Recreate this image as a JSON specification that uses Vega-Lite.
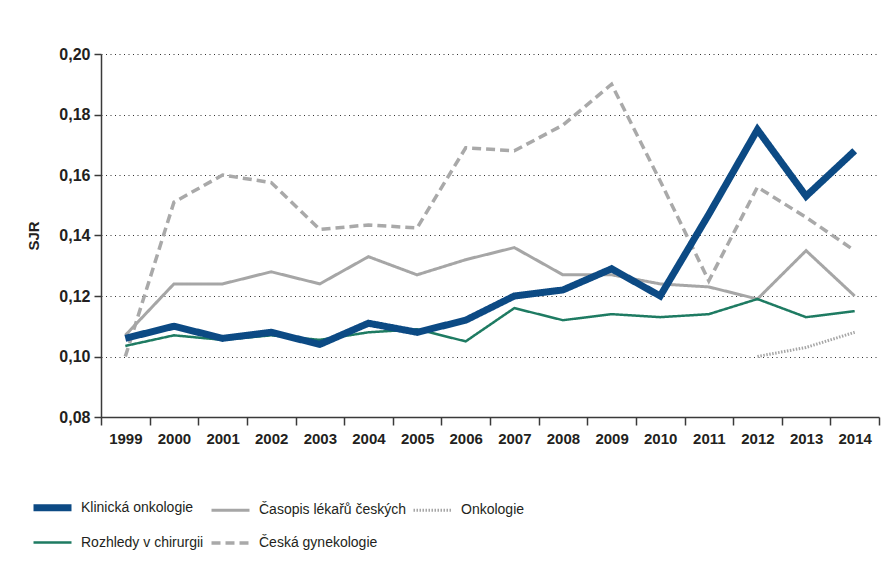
{
  "$schema": "https://vega.github.io/schema/vega-lite/v6.json",
  "width": 778,
  "height": 363,
  "autosize": "none",
  "padding": {"left": 101, "top": 54, "right": 3, "bottom": 152},
  "background": "white",
  "config": {
    "view": {"stroke": null},
    "font": "Liberation Sans"
  },
  "data": {
    "values": [
      {"year": "1999", "journal": "Klinická onkologie", "sjr": 0.106},
      {"year": "2000", "journal": "Klinická onkologie", "sjr": 0.110},
      {"year": "2001", "journal": "Klinická onkologie", "sjr": 0.106},
      {"year": "2002", "journal": "Klinická onkologie", "sjr": 0.108},
      {"year": "2003", "journal": "Klinická onkologie", "sjr": 0.104},
      {"year": "2004", "journal": "Klinická onkologie", "sjr": 0.111},
      {"year": "2005", "journal": "Klinická onkologie", "sjr": 0.108},
      {"year": "2006", "journal": "Klinická onkologie", "sjr": 0.112},
      {"year": "2007", "journal": "Klinická onkologie", "sjr": 0.120},
      {"year": "2008", "journal": "Klinická onkologie", "sjr": 0.122},
      {"year": "2009", "journal": "Klinická onkologie", "sjr": 0.129},
      {"year": "2010", "journal": "Klinická onkologie", "sjr": 0.120},
      {"year": "2011", "journal": "Klinická onkologie", "sjr": 0.147},
      {"year": "2012", "journal": "Klinická onkologie", "sjr": 0.175},
      {"year": "2013", "journal": "Klinická onkologie", "sjr": 0.153},
      {"year": "2014", "journal": "Klinická onkologie", "sjr": 0.168},
      {"year": "1999", "journal": "Časopis lékařů českých", "sjr": 0.107},
      {"year": "2000", "journal": "Časopis lékařů českých", "sjr": 0.124},
      {"year": "2001", "journal": "Časopis lékařů českých", "sjr": 0.124},
      {"year": "2002", "journal": "Časopis lékařů českých", "sjr": 0.128},
      {"year": "2003", "journal": "Časopis lékařů českých", "sjr": 0.124},
      {"year": "2004", "journal": "Časopis lékařů českých", "sjr": 0.133},
      {"year": "2005", "journal": "Časopis lékařů českých", "sjr": 0.127},
      {"year": "2006", "journal": "Časopis lékařů českých", "sjr": 0.132},
      {"year": "2007", "journal": "Časopis lékařů českých", "sjr": 0.136},
      {"year": "2008", "journal": "Časopis lékařů českých", "sjr": 0.127},
      {"year": "2009", "journal": "Časopis lékařů českých", "sjr": 0.127},
      {"year": "2010", "journal": "Časopis lékařů českých", "sjr": 0.124},
      {"year": "2011", "journal": "Časopis lékařů českých", "sjr": 0.123},
      {"year": "2012", "journal": "Časopis lékařů českých", "sjr": 0.119},
      {"year": "2013", "journal": "Časopis lékařů českých", "sjr": 0.135},
      {"year": "2014", "journal": "Časopis lékařů českých", "sjr": 0.120},
      {"year": "1999", "journal": "Rozhledy v chirurgii", "sjr": 0.1035},
      {"year": "2000", "journal": "Rozhledy v chirurgii", "sjr": 0.107},
      {"year": "2001", "journal": "Rozhledy v chirurgii", "sjr": 0.1055},
      {"year": "2002", "journal": "Rozhledy v chirurgii", "sjr": 0.107},
      {"year": "2003", "journal": "Rozhledy v chirurgii", "sjr": 0.1055},
      {"year": "2004", "journal": "Rozhledy v chirurgii", "sjr": 0.108},
      {"year": "2005", "journal": "Rozhledy v chirurgii", "sjr": 0.109},
      {"year": "2006", "journal": "Rozhledy v chirurgii", "sjr": 0.105},
      {"year": "2007", "journal": "Rozhledy v chirurgii", "sjr": 0.116},
      {"year": "2008", "journal": "Rozhledy v chirurgii", "sjr": 0.112},
      {"year": "2009", "journal": "Rozhledy v chirurgii", "sjr": 0.114},
      {"year": "2010", "journal": "Rozhledy v chirurgii", "sjr": 0.113},
      {"year": "2011", "journal": "Rozhledy v chirurgii", "sjr": 0.114},
      {"year": "2012", "journal": "Rozhledy v chirurgii", "sjr": 0.119},
      {"year": "2013", "journal": "Rozhledy v chirurgii", "sjr": 0.113},
      {"year": "2014", "journal": "Rozhledy v chirurgii", "sjr": 0.115},
      {"year": "1999", "journal": "Česká gynekologie", "sjr": 0.100},
      {"year": "2000", "journal": "Česká gynekologie", "sjr": 0.151},
      {"year": "2001", "journal": "Česká gynekologie", "sjr": 0.160},
      {"year": "2002", "journal": "Česká gynekologie", "sjr": 0.1575},
      {"year": "2003", "journal": "Česká gynekologie", "sjr": 0.142},
      {"year": "2004", "journal": "Česká gynekologie", "sjr": 0.1435},
      {"year": "2005", "journal": "Česká gynekologie", "sjr": 0.1425},
      {"year": "2006", "journal": "Česká gynekologie", "sjr": 0.169},
      {"year": "2007", "journal": "Česká gynekologie", "sjr": 0.168},
      {"year": "2008", "journal": "Česká gynekologie", "sjr": 0.1765},
      {"year": "2009", "journal": "Česká gynekologie", "sjr": 0.190},
      {"year": "2010", "journal": "Česká gynekologie", "sjr": 0.158},
      {"year": "2011", "journal": "Česká gynekologie", "sjr": 0.125},
      {"year": "2012", "journal": "Česká gynekologie", "sjr": 0.156},
      {"year": "2013", "journal": "Česká gynekologie", "sjr": 0.146},
      {"year": "2014", "journal": "Česká gynekologie", "sjr": 0.135},
      {"year": "2012", "journal": "Onkologie", "sjr": 0.100},
      {"year": "2013", "journal": "Onkologie", "sjr": 0.103},
      {"year": "2014", "journal": "Onkologie", "sjr": 0.108}
    ]
  },
  "encoding": {
    "x": {
      "field": "year",
      "type": "ordinal",
      "bandPosition": 0.5,
      "scale": {"type": "band", "paddingInner": 0, "paddingOuter": 0},
      "axis": {
        "title": null,
        "tickBand": "extent",
        "labelAngle": 0,
        "labelFontSize": 15,
        "labelFontWeight": "bold",
        "labelColor": "#231f20",
        "labelPadding": 6,
        "tickSize": 8,
        "tickColor": "#3a3a3a",
        "domainColor": "#3a3a3a",
        "domainWidth": 1.5,
        "tickWidth": 1.5,
        "grid": false
      }
    },
    "y": {
      "field": "sjr",
      "type": "quantitative",
      "scale": {"domain": [0.08, 0.2], "nice": false, "zero": false},
      "axis": {
        "title": "SJR",
        "titleFontSize": 15,
        "titleFontWeight": "bold",
        "titleColor": "#231f20",
        "titlePadding": 17,
        "values": [0.08, 0.1, 0.12, 0.14, 0.16, 0.18, 0.2],
        "labelExpr": "replace(format(datum.value, '.2f'), '.', ',')",
        "labelFontSize": 16,
        "labelFontWeight": "bold",
        "labelColor": "#231f20",
        "labelPadding": 4,
        "tickSize": 7,
        "tickColor": "#3a3a3a",
        "tickWidth": 1.5,
        "domainColor": "#3a3a3a",
        "domainWidth": 1.5,
        "grid": true,
        "gridColor": "#333333",
        "gridDash": [1, 3.5],
        "gridWidth": 1.2
      }
    },
    "color": {
      "field": "journal",
      "type": "nominal",
      "scale": {
        "domain": ["Klinická onkologie", "Časopis lékařů českých", "Onkologie", "Rozhledy v chirurgii", "Česká gynekologie"],
        "range": ["#0c4a84", "#a6a6a6", "#a6a6a6", "#1e7b62", "#a9a9a9"]
      },
      "legend": {
        "title": null,
        "orient": "none",
        "legendX": -71,
        "legendY": 431,
        "direction": "horizontal",
        "columns": 3,
        "columnPadding": 0,
        "rowPadding": -40,
        "symbolType": "stroke",
        "symbolSize": 1444,
        "labelFontSize": 14,
        "labelColor": "#231f20",
        "labelOffset": 6,
        "labelLimit": 300
      }
    },
    "strokeDash": {
      "field": "journal",
      "type": "nominal",
      "scale": {
        "domain": ["Klinická onkologie", "Časopis lékařů českých", "Onkologie", "Rozhledy v chirurgii", "Česká gynekologie"],
        "range": [[1, 0], [1, 0], [1.5, 1.5], [1, 0], [9, 5]]
      }
    },
    "strokeWidth": {
      "field": "journal",
      "type": "nominal",
      "scale": {
        "type": "ordinal",
        "domain": ["Klinická onkologie", "Časopis lékařů českých", "Onkologie", "Rozhledy v chirurgii", "Česká gynekologie"],
        "range": [7, 3, 3, 2.5, 3.5]
      }
    }
  },
  "layer": [
    {"transform": [{"filter": "datum.journal === 'Onkologie'"}], "mark": {"type": "line"}},
    {"transform": [{"filter": "datum.journal === 'Česká gynekologie'"}], "mark": {"type": "line"}},
    {"transform": [{"filter": "datum.journal === 'Časopis lékařů českých'"}], "mark": {"type": "line"}},
    {"transform": [{"filter": "datum.journal === 'Rozhledy v chirurgii'"}], "mark": {"type": "line"}},
    {"transform": [{"filter": "datum.journal === 'Klinická onkologie'"}], "mark": {"type": "line"}}
  ]
}
